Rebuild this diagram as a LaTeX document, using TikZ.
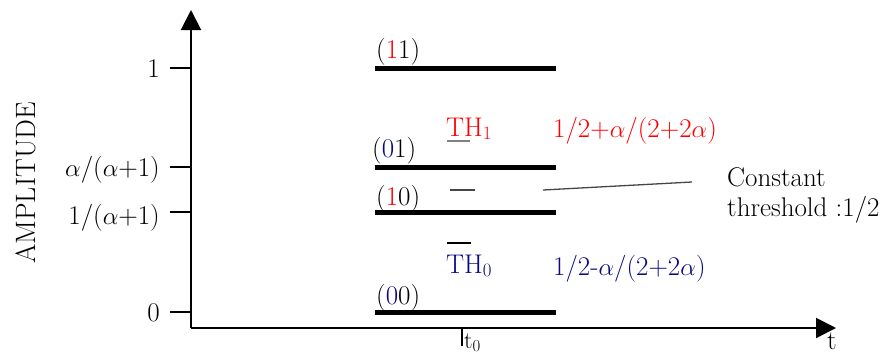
\documentclass[tikz,border=0pt]{standalone}
\usetikzlibrary{arrows.meta}
\definecolor{navy}{RGB}{10,10,128}
\definecolor{dashgray}{RGB}{70,70,70}
\begin{document}
\begin{tikzpicture}[x=1pt,y=-1pt,
  txt/.style={inner sep=0pt, font=\fontsize{27}{30}\selectfont},
  code/.style={inner sep=0pt, anchor=base west, font=\fontsize{27}{30}\selectfont},
  bar/.style={line width=5pt},
  axis/.style={line width=2pt,-{Triangle[length=20pt,width=20pt]}},
  tick/.style={line width=1.5pt},
  mark line/.style={line width=1.6pt}]
\useasboundingbox (0,0) rectangle (893,356);
% axes
\coordinate (O) at (191,328);
\coordinate (ytop) at (191,10);
\coordinate (xend) at (836,328);
\draw[axis] (O) -- (ytop);
\draw[axis] (O) -- (xend);
% y ticks
\foreach \yy/\nm in {68/a,167/b,212/c,312/d}{
  \coordinate (tl\nm) at (170,\yy);
  \coordinate (tr\nm) at (191,\yy);
  \draw[tick] (tl\nm) -- (tr\nm);
}
\node[txt, anchor=base east] (l1) at (160,77) {1};
\node[txt, anchor=base east] (l2) at (160,176) {\(\alpha\)/(\(\alpha\)+1)};
\node[txt, anchor=base east] (l3) at (160,224) {1/(\(\alpha\)+1)};
\node[txt, anchor=base east] (l4) at (160,321) {0};
\node[txt, font=\fontsize{28}{30}\selectfont, rotate=90] (amp) at (26,183) {AMPLITUDE};
% bars
\foreach \yy/\nm in {68/a,167/b,212/c,312/d}{
  \coordinate (bl\nm) at (375,\yy);
  \coordinate (br\nm) at (556,\yy);
  \draw[bar] (bl\nm) -- (br\nm);
}
% codes
\node[code] (c11) at (376,58) {(\textcolor{red}{1}1)};
\node[code] (c01) at (372,157) {(\textcolor{navy}{0}1)};
\node[code] (c10) at (376,205) {(\textcolor{red}{1}0)};
\node[code] (c00) at (376,304) {(\textcolor{navy}{0}0)};
% thresholds
\node[txt, anchor=base west, text=red] (th1) at (446,136) {TH\textsubscript{1}};
\coordinate (u1) at (447,141); \coordinate (u2) at (470,141);
\draw[mark line, gray] (u1) -- (u2);
\coordinate (m1) at (450,190); \coordinate (m2) at (475,190);
\draw[mark line, dashgray] (m1) -- (m2);
\coordinate (o1) at (447,243); \coordinate (o2) at (471,243);
\draw[mark line] (o1) -- (o2);
\node[txt, anchor=base west, text=navy] (th0) at (446,273) {TH\textsubscript{0}};
\node[txt, anchor=base west, text=red] (f1) at (553,137) {1/2+\(\alpha\)/(2+2\(\alpha\))};
\node[txt, anchor=base west, text=navy] (f0) at (553,275) {1/2-\(\alpha\)/(2+2\(\alpha\))};
% constant threshold
\node[txt, anchor=north west, align=left] (ct) at (727,167) {Constant\\threshold :1/2};
\coordinate (cs) at (543,190);
\coordinate (ce) at (692,182);
\draw[line width=1.3pt, dashgray] (cs) -- (ce);
% t0 and t
\coordinate (t0a) at (462,328); \coordinate (t0b) at (462,346);
\draw[tick] (t0a) -- (t0b);
\node[txt, anchor=base west, font=\fontsize{24}{26}\selectfont] (t0) at (464,348) {t\textsubscript{0}};
\node[txt, anchor=base west] (t) at (827,349) {t};
\end{tikzpicture}
\end{document}
